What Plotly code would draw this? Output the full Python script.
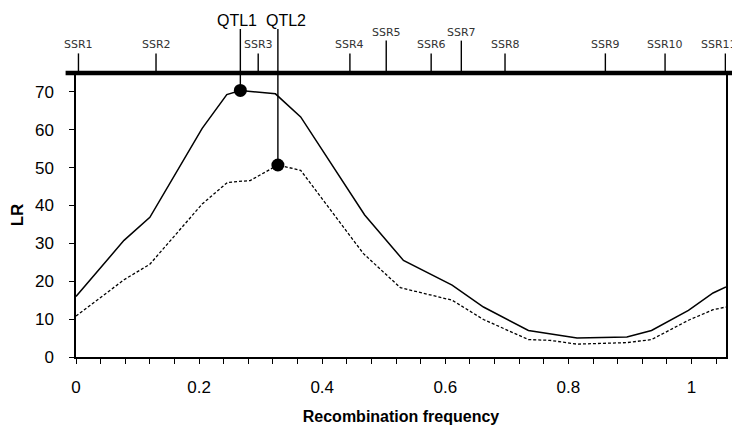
import plotly.graph_objects as go

# LR profiles along the linkage group (x = recombination frequency)
solid_x = [0, 0.078, 0.120, 0.162, 0.205, 0.245, 0.267, 0.324, 0.365, 0.469, 0.532,
           0.611, 0.662, 0.735, 0.770, 0.814, 0.895, 0.935, 0.995, 1.035, 1.056]
solid_lr = [16.0, 30.8, 36.9, 48.4, 60.4, 69.3, 70.4, 69.5, 63.4, 37.5, 25.5,
            19.0, 13.2, 7.0, 6.2, 5.0, 5.3, 7.0, 12.3, 16.9, 18.5]

dashed_x = [0, 0.078, 0.120, 0.161, 0.205, 0.246, 0.283, 0.328, 0.365, 0.467, 0.527,
            0.611, 0.662, 0.735, 0.770, 0.814, 0.895, 0.935, 0.995, 1.035, 1.056]
dashed_lr = [10.8, 20.4, 24.5, 32.2, 40.4, 46.1, 46.6, 50.7, 49.3, 27.3, 18.3,
             15.0, 9.9, 4.6, 4.4, 3.4, 3.8, 4.6, 9.7, 12.5, 13.2]

# QTL peaks
qtl_names = ["QTL1", "QTL2"]
qtl_x = [0.267, 0.328]
qtl_lr = [70.4, 50.7]

# SSR markers on the chromosome
marker_names = ["SSR1", "SSR2", "SSR3", "SSR4", "SSR5", "SSR6",
                "SSR7", "SSR8", "SSR9", "SSR10", "SSR11"]
marker_x = [0.004, 0.130, 0.296, 0.445, 0.504, 0.577,
            0.626, 0.697, 0.860, 0.957, 1.055]
raised_markers = {"SSR5", "SSR7"}

INK = "black"
FONT = "Liberation Sans, Arial, sans-serif"

# the page body keeps its default 8px margin, so the figure is 8px smaller
PAGE_OFFSET = 8

fig = go.Figure()

fig.add_trace(go.Scatter(
    x=solid_x, y=solid_lr, mode="lines",
    line={"color": INK, "width": 1.5}, hoverinfo="skip",
))
fig.add_trace(go.Scatter(
    x=dashed_x, y=dashed_lr, mode="lines",
    line={"color": INK, "width": 1.3, "dash": "3px,2px"}, hoverinfo="skip",
))

# chromosome bar along the top of the plot
fig.add_shape(type="line", xref="paper", yref="paper",
              x0=-0.016, x1=1.018, y0=1, y1=1,
              line={"color": INK, "width": 4.5})

# SSR marker ticks and labels (the last label is nudged in from the page edge)
for i, (name, pos) in enumerate(zip(marker_names, marker_x)):
    raised = name in raised_markers
    fig.add_shape(type="line", xref="x", yref="paper",
                  x0=pos, x1=pos, y0=1, y1=1.114 if raised else 1.069,
                  line={"color": INK, "width": 1.4})
    fig.add_annotation(x=pos, y=1.141 if raised else 1.1, xref="x", yref="paper",
                       text=name, showarrow=False, xanchor="center", yanchor="middle",
                       xshift=-6 if i == len(marker_names) - 1 else 0,
                       font={"family": "DejaVu Sans", "size": 11, "color": "#333"})

# QTL drop lines, peak dots and labels
qtl_shift = [-3, 8]
for name, pos, lr, shift in zip(qtl_names, qtl_x, qtl_lr, qtl_shift):
    fig.add_shape(type="line", xref="x", yref="y", x0=pos, x1=pos, y0=lr, y1=75,
                  line={"color": INK, "width": 1.4})
    fig.add_shape(type="line", xref="x", yref="paper", x0=pos, x1=pos, y0=1, y1=1.155,
                  line={"color": INK, "width": 1.4})
    fig.add_annotation(x=pos, y=1.185, xref="x", yref="paper", xshift=shift,
                       text=name, showarrow=False, xanchor="center", yanchor="middle",
                       font={"family": FONT, "size": 16, "color": INK})

fig.add_trace(go.Scatter(
    x=qtl_x, y=qtl_lr, mode="markers",
    marker={"color": INK, "size": 13}, hoverinfo="skip", cliponaxis=False,
))

fig.update_xaxes(
    range=[0, 1.056], tick0=0, dtick=0.2, automargin=False,
    showline=True, linecolor=INK, linewidth=1.5,
    ticks="outside", ticklen=5, tickwidth=1.3, tickcolor=INK,
    minor={"dtick": 0.04, "ticks": "outside", "ticklen": 5, "tickwidth": 1.3,
           "tickcolor": INK, "showgrid": False},
    showgrid=False, zeroline=False,
    tickfont={"family": FONT, "size": 17, "color": INK},
    ticklabelstandoff=9,
    title={"text": "<b>Recombination frequency</b>", "standoff": 24,
           "font": {"family": FONT, "size": 16, "color": INK}},
)
fig.update_yaxes(
    range=[0, 75], tick0=0, dtick=10, automargin=False,
    showline=True, mirror=True, linecolor=INK, linewidth=1.5,
    ticks="outside", ticklen=5, tickwidth=1.3, tickcolor=INK,
    showgrid=False, zeroline=False,
    tickfont={"family": FONT, "size": 17, "color": INK},
    ticklabelstandoff=12,
    title={"text": "<b>LR</b>", "standoff": 10,
           "font": {"family": FONT, "size": 17, "color": INK}},
)

fig.update_layout(
    width=740 - PAGE_OFFSET, height=425 - PAGE_OFFSET,
    margin={"l": 76 - PAGE_OFFSET, "r": 14, "t": 73 - PAGE_OFFSET, "b": 68},
    plot_bgcolor="white", paper_bgcolor="white",
    showlegend=False,
    font={"family": FONT, "color": INK},
)

fig.write_html("out.html")
